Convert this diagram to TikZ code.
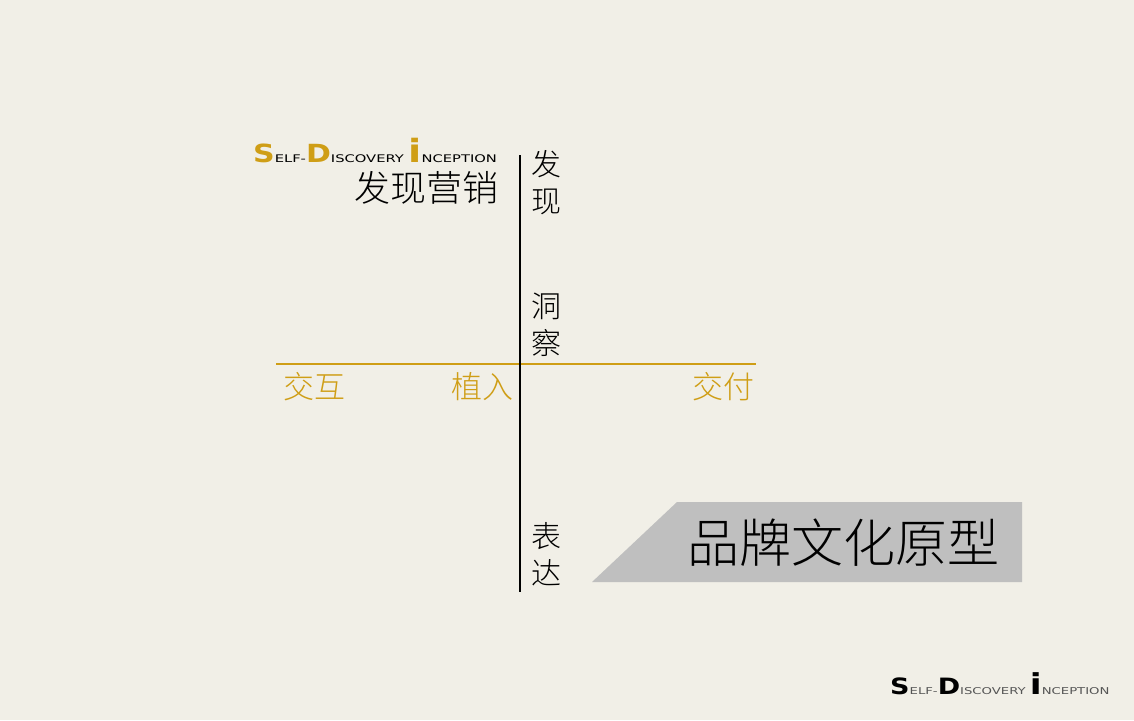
\documentclass[tikz,border=0pt]{standalone}
\usepackage{fontspec}
\usepackage{tikz}
\definecolor{colback}{RGB}{241,239,231}
\definecolor{colgold}{RGB}{207,158,22}
\definecolor{colbanner}{RGB}{191,191,191}
\definecolor{colsmall}{RGB}{85,85,85}
\IfFontExistsTF{Noto Sans CJK SC Light}
	{\newfontfamily\cjk{Noto Sans CJK SC Light}}
	{\newfontfamily\cjk{Noto Sans CJK SC}}
\newfontfamily\cpbig[FakeStretch=1.2]{DejaVu Sans Bold}
\newfontfamily\cpsmall[FakeStretch=1.4]{DejaVu Sans}
\newcommand{\sdiname}[2]{%
	\textcolor{#1}{\cpbig\fontsize{25}{25}\selectfont S}%
	\textcolor{#2}{\cpsmall\fontsize{10.5}{11}\selectfont ELF-}%
	\textcolor{#1}{\cpbig\fontsize{25}{25}\selectfont D}%
	\textcolor{#2}{\cpsmall\fontsize{10.5}{11}\selectfont ISCOVERY }%
	\textcolor{#1}{\cpbig\fontsize{32}{32}\selectfont i}%
	\textcolor{#2}{\cpsmall\fontsize{10.5}{11}\selectfont NCEPTION}}
\usetikzlibrary{
	positioning
}
\tikzset{
	vaxis/.style={line width=2.8pt, black},
	haxis/.style={line width=2pt, colgold},
	vlabel/.style={inner sep=0pt, align=center, font=\cjk\fontsize{30}{37}\selectfont},
	hlabel/.style={inner sep=0pt, text=colgold, font=\cjk\fontsize{31}{31}\selectfont},
	banner/.style={fill=colbanner}
}

\begin{document}
\begin{tikzpicture}[x=1pt, y=-1pt]
	\fill[colback] (0,0) rectangle (1134,720);
	\useasboundingbox (0,0) rectangle (1134,720);
	% title
	\node[inner sep=0pt, anchor=base west] (title) at (253,162) {\sdiname{colgold}{black}};
	\node[inner sep=0pt, anchor=east, font=\cjk\fontsize{36}{36}\selectfont] (fxyx) at (499,188) {发现营销};
	% banner
	\fill[banner] (677,502) -- (1022,502) -- (1022,582) -- (592,582) -- cycle;
	\node[inner sep=0pt, font=\cjk\fontsize{52}{52}\selectfont] (brand) at (843.5,543) {品牌文化原型};
	% axes
	\coordinate (left) at (276,364);
	\coordinate (right) at (756,364);
	\coordinate (top) at (520,155);
	\coordinate (bottom) at (520,592);
	\draw[haxis] (left) -- (right);
	\draw[vaxis] (top) -- (bottom);
	\node[vlabel] (faxian) at (546.5,183) {发\\现};
	\node[vlabel] (dongcha) at (546.5,325) {洞\\察};
	\node[vlabel] (biaoda) at (546.5,554.5) {表\\达};
	\node[hlabel] (jiaohu) at (314.5,387) {交互};
	\node[hlabel] (zhiru) at (482,387) {植入};
	\node[hlabel] (jiaofu) at (723.5,387) {交付};
	% footer
	\node[inner sep=0pt, anchor=base west, scale=0.9] (footer) at (890,694) {\sdiname{black}{colsmall}};
\end{tikzpicture}
\end{document}
